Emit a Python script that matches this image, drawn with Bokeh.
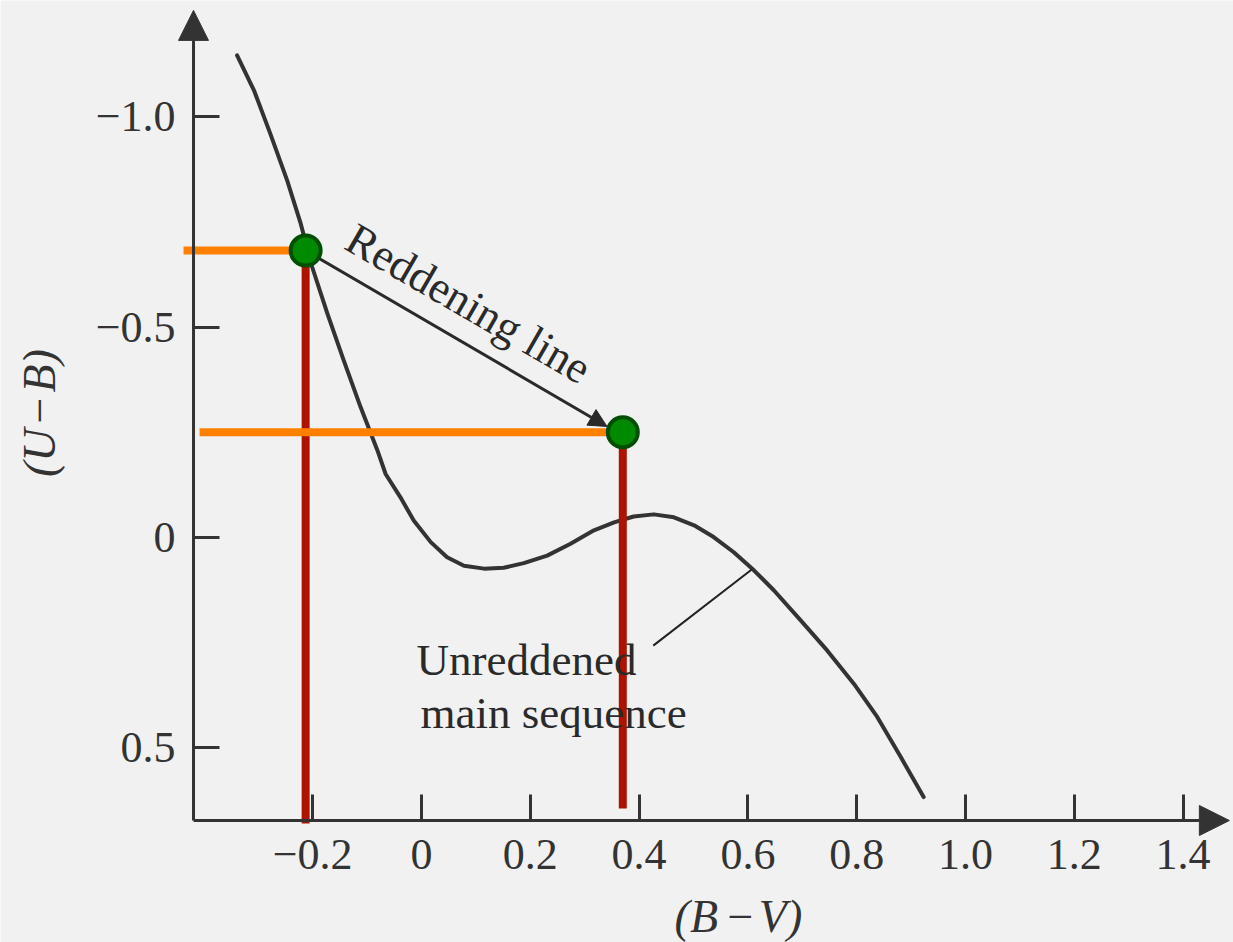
import math
from bokeh.plotting import figure
from bokeh.models import Range1d, FixedTicker, Arrow, NormalHead, Label
from bokeh.embed import file_html
from bokeh.resources import INLINE

# Unreddened main sequence: (B-V) and (U-B)
ms_bv = [-0.339, -0.308, -0.278, -0.247, -0.222, -0.201, -0.173, -0.143, -0.112,
         -0.081, -0.066, -0.039, -0.014, 0.017, 0.047, 0.078, 0.115, 0.151,
         0.188, 0.231, 0.274, 0.317, 0.354, 0.390, 0.427, 0.464, 0.501, 0.537,
         0.574, 0.611, 0.648, 0.697, 0.746, 0.795, 0.838, 0.881, 0.923]
ms_ub = [-1.146, -1.063, -0.960, -0.849, -0.746, -0.643, -0.532, -0.421, -0.310,
         -0.207, -0.151, -0.096, -0.040, 0.011, 0.047, 0.067, 0.074, 0.072,
         0.061, 0.043, 0.015, -0.017, -0.036, -0.050, -0.055, -0.048, -0.029,
         -0.001, 0.035, 0.078, 0.126, 0.197, 0.269, 0.348, 0.427, 0.522, 0.617]

# Star: intrinsic (on main sequence) and observed (reddened) colours
star_bv = [-0.213, 0.370]
star_ub = [-0.682, -0.250]

x_ticks = [-0.2, 0.0, 0.2, 0.4, 0.6, 0.8, 1.0, 1.2, 1.4]
x_tick_labels = ["\u22120.2", "0", "0.2", "0.4", "0.6", "0.8", "1.0", "1.2", "1.4"]
y_ticks = [-1.0, -0.5, 0.0, 0.5]
y_tick_labels = ["\u22121.0", "\u22120.5", "0", "0.5"]

# axis titles: italic letters, upright minus
x_title = ["(B", "\u2212", "V)"]
y_title = ["(U", "\u2212", "B)"]
arrow_text = "Reddening line"
ms_text = ["Unreddened", "main sequence"]

# where the two axes cross (data units) and where their arrows end
X_AXIS_AT = 0.6727     # (U-B) value of the horizontal axis
Y_AXIS_AT = -0.4191    # (B-V) value of the vertical axis
X_ARROW_END = 1.485
Y_ARROW_END = -1.253

INK = "#333333"
TXT = "#2a2a2a"
BG = "#f1f1f1"
SERIF = "Liberation Serif"

p = figure(width=1233, height=942,
           x_range=Range1d(-0.7739, 1.4926), y_range=Range1d(0.9627, -1.2765),
           output_backend="svg", toolbar_location=None,
           min_border_left=0, min_border_bottom=0,
           min_border_top=0, min_border_right=0)
p.background_fill_color = BG
p.border_fill_color = BG
p.outline_line_color = None
p.grid.visible = False

for ax in (p.xaxis[0], p.yaxis[0]):
    ax.axis_line_color = None
    ax.major_tick_in = 26
    ax.major_tick_out = 0
    ax.major_tick_line_width = 3
    ax.major_tick_line_color = INK
    ax.minor_tick_line_color = None
    ax.major_label_text_font = SERIF
    ax.major_label_text_font_size = "44px"
    ax.major_label_text_color = INK

p.xaxis.fixed_location = X_AXIS_AT
p.yaxis.fixed_location = Y_AXIS_AT
p.xaxis.ticker = FixedTicker(ticks=x_ticks)
p.xaxis.major_label_overrides = dict(zip(x_ticks, x_tick_labels))
p.xaxis.major_label_standoff = 19
p.yaxis.ticker = FixedTicker(ticks=y_ticks)
p.yaxis.major_label_overrides = dict(zip(y_ticks, y_tick_labels))
p.yaxis.major_label_standoff = 18

# axis lines with arrow heads
p.add_layout(Arrow(x_start=Y_AXIS_AT, y_start=X_AXIS_AT, x_end=Y_AXIS_AT, y_end=Y_ARROW_END,
                   line_color=INK, line_width=3,
                   end=NormalHead(size=30, fill_color=INK, line_color=INK)))
p.add_layout(Arrow(x_start=Y_AXIS_AT, y_start=X_AXIS_AT, x_end=X_ARROW_END, y_end=X_AXIS_AT,
                   line_color=INK, line_width=3,
                   end=NormalHead(size=30, fill_color=INK, line_color=INK)))

# main sequence curve
p.line(ms_bv, ms_ub, line_color=INK, line_width=4, line_join="round", line_cap="round")

# leader line for the main-sequence label
p.line([0.426, 0.607], [0.257, 0.076], line_color="#222222", line_width=2)

# reddening arrow (under the markers)
p.add_layout(Arrow(x_start=star_bv[0], y_start=star_ub[0],
                   x_end=0.341, y_end=-0.264,
                   line_color=TXT, line_width=3, level="underlay",
                   end=NormalHead(size=18, fill_color=TXT, line_color=TXT)))

# red drop lines to the (B-V) axis
p.segment(x0=star_bv, y0=star_ub, x1=star_bv, y1=[0.680, 0.644],
          line_color="#ad1400", line_width=8)
# orange lines to the (U-B) axis
p.segment(x0=[-0.4375, -0.408], y0=star_ub, x1=star_bv, y1=star_ub,
          line_color="#ff8000", line_width=8)

p.scatter(star_bv, star_ub, size=30, fill_color="#008a00",
          line_color="#004f00", line_width=4)

# texts
p.add_layout(Label(x=0.0864, y=-0.5562, text=arrow_text, angle=-0.525,
                   text_align="center", text_baseline="alphabetic",
                   text_font=SERIF, text_font_size="45px", text_color=TXT))
p.add_layout(Label(x=-0.0092, y=0.292, text=ms_text[0],
                   text_align="left", text_baseline="alphabetic",
                   text_font=SERIF, text_font_size="45px", text_color=TXT))
p.add_layout(Label(x=-0.0018, y=0.416, text=ms_text[1],
                   text_align="left", text_baseline="alphabetic",
                   text_font=SERIF, text_font_size="45px", text_color=TXT))

# (B - V) title below the horizontal axis
for txt, xx, al, style in zip(x_title, [0.545, 0.5864, 0.620],
                              ["right", "center", "left"],
                              ["italic", "normal", "italic"]):
    p.add_layout(Label(x=xx, y=0.9009, text=txt, text_align=al,
                       text_baseline="middle", text_font=SERIF,
                       text_font_style=style, text_font_size="46px", text_color=INK))

# (U - B) title left of the vertical axis (reads upwards)
for txt, yy, al, style in zip(y_title, [-0.2591, -0.3019, -0.3447],
                              ["right", "center", "left"],
                              ["italic", "normal", "italic"]):
    p.add_layout(Label(x=-0.702, y=yy, text=txt, angle=math.pi / 2, text_align=al,
                       text_baseline="middle", text_font=SERIF,
                       text_font_style=style, text_font_size="46px", text_color=INK))

open("out.html", "w").write(file_html(p, INLINE))
